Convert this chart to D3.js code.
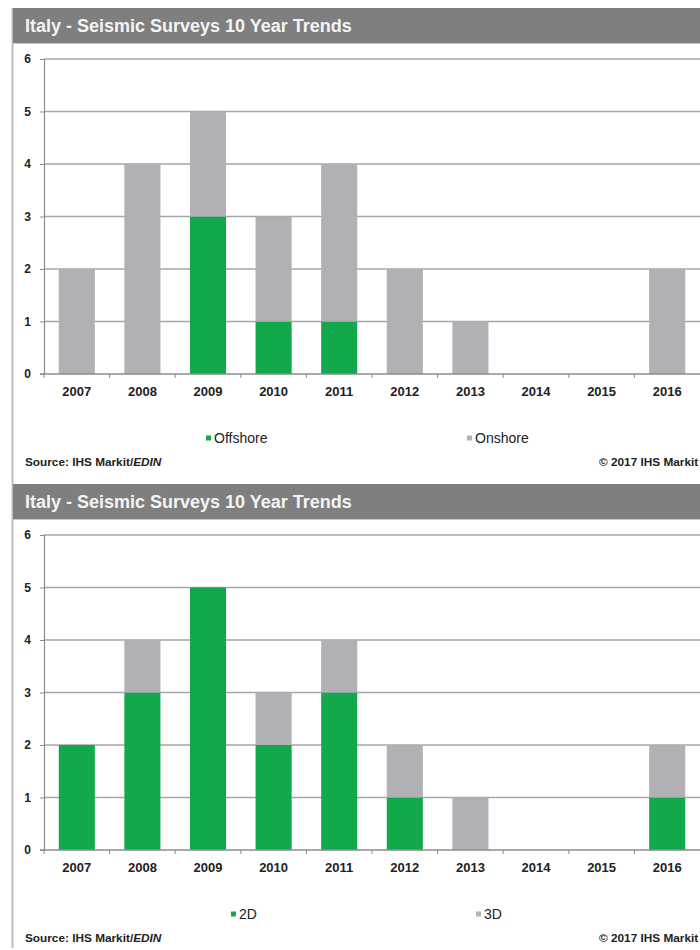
<!DOCTYPE html>
<html>
<head>
<meta charset="utf-8">
<script src="https://cdn.jsdelivr.net/npm/d3@7"></script>
<style>
  body { margin: 0; background: #fff; overflow: hidden; }
  svg { display: block; font-family: "Liberation Sans", Arial, sans-serif; }
</style>
</head>
<body>
<svg id="chart"></svg>
<script>
// data
const years = ["2007", "2008", "2009", "2010", "2011", "2012", "2013", "2014", "2015", "2016"];
const offshore = [0, 0, 3, 1, 1, 0, 0, 0, 0, 0];
const onshore = [2, 4, 2, 2, 3, 2, 1, 0, 0, 2];
const survey2D = [2, 3, 5, 2, 3, 1, 0, 0, 0, 1];
const survey3D = [0, 1, 0, 1, 1, 1, 1, 0, 0, 1];
const yTicks = [0, 1, 2, 3, 4, 5, 6];
const titleText = "Italy - Seismic Surveys 10 Year Trends";
const sourceText = "Source: IHS Markit/";
const sourceItalic = "EDIN";
const copyText = "\u00a9 2017 IHS Markit";

const W = 700, H = 950;
const GREEN = "#13a84b", GREY = "#b1b1b5";
const NARROW = "'Liberation Sans Narrow', 'Arial Narrow', 'Liberation Sans', sans-serif";

const svg = d3.select("#chart").attr("width", W).attr("height", H);

// left border of the panels
svg.append("line")
  .attr("x1", 12.5).attr("x2", 12.5)
  .attr("y1", 8).attr("y2", 948)
  .attr("stroke", "#bdbdbd").attr("stroke-width", 2);

const x = d3.scaleBand()
  .domain(years)
  .range([44, 700])
  .paddingInner(0.45)
  .paddingOuter(0.225);

const drawPanel = (top, keys, series, colors, legendPos) => {
  const g = svg.append("g").attr("transform", `translate(0,${top})`);

  // title bar
  g.append("rect")
    .attr("x", 13).attr("y", 8)
    .attr("width", W).attr("height", 35)
    .attr("fill", "#7f7f7f");
  g.append("line")
    .attr("x1", 13).attr("x2", W)
    .attr("y1", 43.5).attr("y2", 43.5)
    .attr("stroke", "#c8c8c8");
  g.append("text")
    .attr("x", 25).attr("y", 32)
    .attr("fill", "#f4f4f4")
    .attr("font-size", 18).attr("font-weight", "bold")
    .text(titleText);

  const y = d3.scaleLinear().domain([0, 6]).range([374, 59]);

  // gridlines
  g.append("g")
    .selectAll("line")
    .data(yTicks.filter((d) => d > 0))
    .join("line")
    .attr("x1", 44).attr("x2", W)
    .attr("y1", (d) => y(d)).attr("y2", (d) => y(d))
    .attr("stroke", "#a6a6a6").attr("stroke-width", 1.5);

  // stacked bars
  const rows = years.map((yr, i) => {
    const r = { year: yr };
    keys.forEach((k, j) => (r[k] = series[j][i]));
    return r;
  });
  const stacked = d3.stack().keys(keys)(rows);

  g.append("g")
    .selectAll("g")
    .data(stacked)
    .join("g")
    .attr("fill", (d, i) => colors[i])
    .selectAll("rect")
    .data((d) => d.filter((v) => v[1] > v[0]))
    .join("rect")
    .attr("x", (d) => x(d.data.year))
    .attr("y", (d) => y(d[1]))
    .attr("width", x.bandwidth())
    .attr("height", (d) => y(d[0]) - y(d[1]));

  // y axis
  const yAxis = g.append("g")
    .attr("transform", "translate(44,0)")
    .call(d3.axisLeft(y).tickValues(yTicks).tickSize(4).tickPadding(9).tickFormat(d3.format("d")));
  yAxis.select(".domain").attr("stroke", "#8c8c8c").attr("stroke-width", 1.2);
  yAxis.selectAll(".tick line").attr("stroke", "#8c8c8c");
  yAxis.selectAll(".tick text")
    .attr("fill", "#222").attr("font-size", 12).attr("font-weight", "bold")
    .attr("font-family", "Liberation Sans, Arial, sans-serif");

  // x axis
  const xAxis = g.append("g").attr("transform", `translate(0,${y(0)})`);
  xAxis.append("line")
    .attr("x1", 40).attr("x2", W)
    .attr("stroke", "#8c8c8c").attr("stroke-width", 1.5);
  xAxis.selectAll(".tk")
    .data(years)
    .join("line")
    .attr("class", "tk")
    .attr("x1", (d) => x(d) - x.step() * x.paddingInner() / 2)
    .attr("x2", (d) => x(d) - x.step() * x.paddingInner() / 2)
    .attr("y1", 0).attr("y2", 4)
    .attr("stroke", "#8c8c8c");
  xAxis.selectAll("text")
    .data(years)
    .join("text")
    .attr("x", (d) => x(d) + x.bandwidth() / 2)
    .attr("y", 22)
    .attr("text-anchor", "middle")
    .attr("fill", "#222")
    .attr("font-family", NARROW)
    .attr("font-size", 13).attr("font-weight", "bold")
    .text((d) => d);

  // legend
  const lg = g.append("g").selectAll("g")
    .data(keys)
    .join("g")
    .attr("transform", (d, i) => `translate(${legendPos[i]},438)`);
  lg.append("rect")
    .attr("x", 0).attr("y", -2.5)
    .attr("width", 5).attr("height", 5)
    .attr("fill", (d, i) => colors[i]);
  lg.append("text")
    .attr("x", 8).attr("y", 5)
    .attr("fill", "#222").attr("font-size", 14)
    .text((d) => d);

  // source line
  const src = g.append("text")
    .attr("x", 25).attr("y", 466)
    .attr("fill", "#222").attr("font-size", 11.8).attr("font-weight", "bold");
  src.append("tspan").text(sourceText);
  src.append("tspan").attr("font-style", "italic").text(sourceItalic);
  g.append("text")
    .attr("x", 599).attr("y", 466)
    .attr("fill", "#222").attr("font-size", 11.8).attr("font-weight", "bold")
    .text(copyText);
};

drawPanel(0, ["Offshore", "Onshore"], [offshore, onshore], [GREEN, GREY], [206, 467]);
drawPanel(476, ["2D", "3D"], [survey2D, survey3D], [GREEN, GREY], [231, 476]);
</script>
</body>
</html>
